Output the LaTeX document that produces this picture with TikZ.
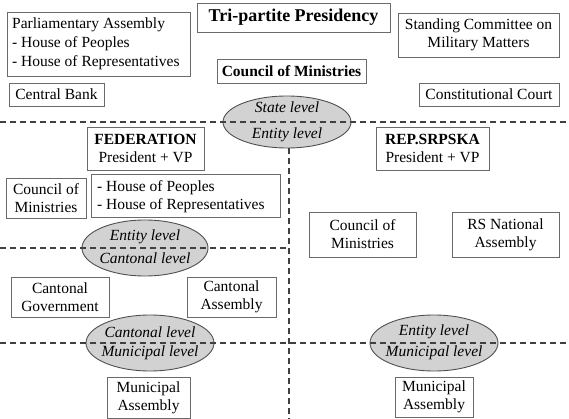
\documentclass[tikz,border=0pt]{standalone}
\usepackage{fontspec}
\setmainfont{LiberationSerif}[Extension=.ttf, UprightFont=*-Regular, BoldFont=*-Bold, ItalicFont=*-Italic, BoldItalicFont=*-BoldItalic]
\usetikzlibrary{shapes.geometric}
\definecolor{boxline}{HTML}{6A6A6A}
\definecolor{lvlfill}{HTML}{D2D2D2}
\definecolor{lvlline}{HTML}{505050}
\definecolor{divline}{HTML}{404040}
\tikzset{
  box/.style={draw=boxline, line width=0.9pt, fill=white, inner sep=0pt, align=center,
    font=\fontsize{15.5}{18}\selectfont},
  lvl/.style={ellipse, draw=lvlline, line width=0.9pt, fill=lvlfill, inner sep=0pt},
  lvltxt/.style={inner sep=0pt, font=\fontsize{15.5}{18}\selectfont\itshape},
  divider/.style={draw=divline, line width=1.1pt, dash pattern=on 6pt off 4pt},
}
\begin{document}
\begin{tikzpicture}[x=1pt,y=-1pt]
\useasboundingbox (0,0) rectangle (569,419);
% state level
\node[box, minimum width=183, minimum height=64] (parl) at (98.5,44) {};
\node[inner sep=0pt, align=left, anchor=west, font=\fontsize{15.5}{19}\selectfont] (parltxt) at (12,44) {Parliamentary Assembly\\- House of Peoples\\- House of Representatives};
\node[box, minimum width=193, minimum height=29, font=\fontsize{18}{20}\selectfont\bfseries] (trip) at (293.5,17.5) {Tri-partite Presidency};
\node[box, minimum width=161, minimum height=44] (stand) at (478.5,35) {Standing Committee on\\Military Matters};
\node[box, minimum width=149, minimum height=24, font=\fontsize{15.5}{18}\selectfont\bfseries] (cmin) at (291.5,71) {Council of Ministries};
\node[box, minimum width=95, minimum height=23] (cbank) at (56.5,94.5) {Central Bank};
\node[box, minimum width=140, minimum height=23] (court) at (489,94.5) {Constitutional Court};
% entity level
\node[box, minimum width=117, minimum height=43] (fed) at (145.5,148.5) {\textbf{FEDERATION}\\President + VP};
\node[box, minimum width=113, minimum height=43] (rs) at (432.5,148.5) {\textbf{REP.SRPSKA}\\President + VP};
\node[box, minimum width=80, minimum height=40] (fedcom) at (46,198) {Council of\\Ministries};
\node[box, minimum width=189, minimum height=43] (houses) at (185.5,195.5) {};
\node[inner sep=0pt, align=left, anchor=west, font=\fontsize{15.5}{18}\selectfont] (housestxt) at (97,196.5) {- House of Peoples\\- House of Representatives};
\node[box, minimum width=107, minimum height=45] (rscom) at (362.5,234.5) {Council of\\Ministries};
\node[box, minimum width=107, minimum height=45] (rsna) at (505.5,234.5) {RS National\\Assembly};
% cantonal level
\node[box, minimum width=98, minimum height=40] (cgov) at (60,297) {Cantonal\\Government};
\node[box, minimum width=89, minimum height=40] (cass) at (231.5,297) {Cantonal\\Assembly};
% municipal level
\node[box, minimum width=83, minimum height=41] (mun1) at (148.5,397.5) {Municipal\\Assembly};
\node[box, minimum width=78, minimum height=40] (mun2) at (434,397) {Municipal\\Assembly};
% level ellipses
\node[lvl, minimum width=128, minimum height=52] (e1) at (287,122) {};
\node[lvl, minimum width=126, minimum height=56] (e2) at (145,248) {};
\node[lvl, minimum width=128, minimum height=56] (e3) at (150,343) {};
\node[lvl, minimum width=128, minimum height=56] (e4) at (434,343) {};
% dividers
\coordinate (d1l) at (0,122); \coordinate (d1r) at (569,122);
\coordinate (vt) at (289,148); \coordinate (vb) at (289,419);
\coordinate (d2l) at (0,248); \coordinate (d2r) at (289,248);
\coordinate (d3l) at (0,343); \coordinate (d3r) at (569,343);
\draw[divider] (d1l) -- (d1r);
\draw[divider] (vt) -- (vb);
\draw[divider] (d2l) -- (d2r);
\draw[divider] (d3l) -- (d3r);
% ellipse texts
\node[lvltxt] (e1a) at (287,107) {State level};
\node[lvltxt] (e1b) at (287,135) {Entity level};
\node[lvltxt] (e2a) at (145,237) {Entity level};
\node[lvltxt] (e2b) at (145,258) {Cantonal level};
\node[lvltxt] (e3a) at (150,332) {Cantonal level};
\node[lvltxt] (e3b) at (150,353) {Municipal level};
\node[lvltxt] (e4a) at (434,332) {Entity level};
\node[lvltxt] (e4b) at (434,353) {Municipal level};
\end{tikzpicture}
\end{document}
